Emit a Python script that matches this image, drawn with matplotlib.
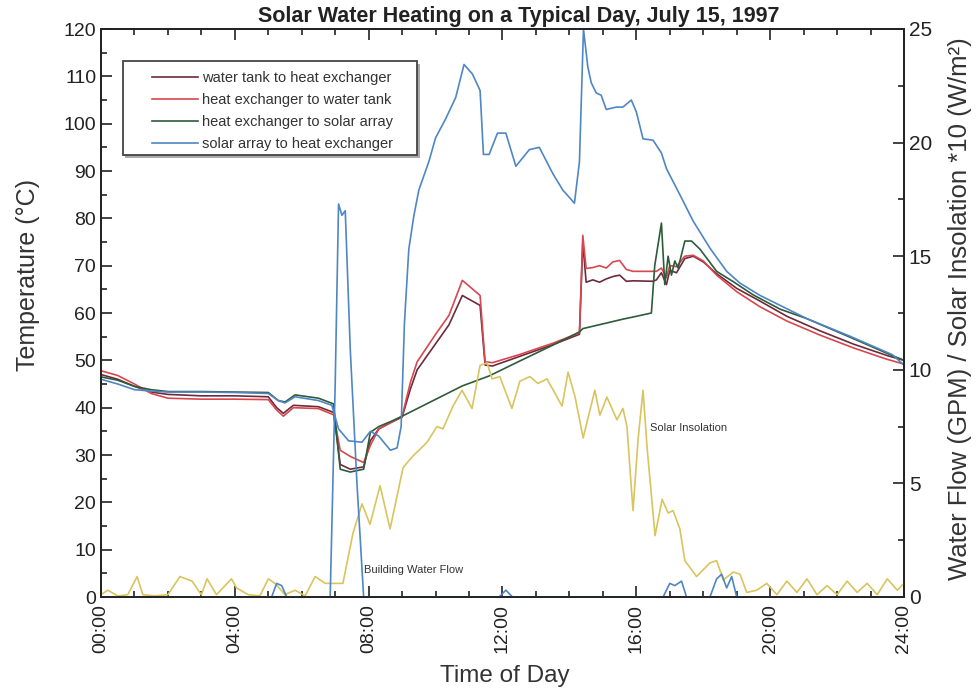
import matplotlib
matplotlib.use("Agg")
import matplotlib.pyplot as plt
from matplotlib.ticker import MultipleLocator
from matplotlib.patches import Rectangle

plt.rcParams['font.family'] = ['Liberation Sans', 'DejaVu Sans']

# ---------------- data ----------------
hour_ticks = [0, 4, 8, 12, 16, 20, 24]
hour_labels = ["00:00", "04:00", "08:00", "12:00", "16:00", "20:00", "24:00"]

series_names = ["water tank to heat exchanger", "heat exchanger to water tank",
                "heat exchanger to solar array", "solar array to heat exchanger"]

hours_tank_loop = [0, 0.5, 1.0, 1.5, 2.0, 3.0, 4.0, 5.0, 5.25, 5.45, 5.75, 6.5, 6.95, 7.15, 7.45,
                   7.85, 8.05, 8.3, 8.7, 9.0, 9.25, 9.45, 10.0, 10.4, 10.8, 11.33, 11.48, 11.7, 12.5,
                   13.5, 14.3, 14.4, 14.5, 14.7, 14.9, 15.1, 15.3, 15.5, 15.7, 15.9, 16.5, 16.6, 16.75,
                   16.9, 17.0, 17.2, 17.45, 17.7, 18.0, 18.4, 19.0, 19.7, 20.5, 21.5, 22.5, 23.5, 24]
temp_tank_to_hx = [47.0, 46.0, 44.5, 43.3, 42.8, 42.5, 42.5, 42.3, 40.0, 38.8, 40.5, 40.2, 39.0, 28.0,
                   27.0, 27.5, 33.0, 35.5, 37.0, 38.0, 44.0, 48.0, 53.5, 57.5, 63.7, 61.6, 49.0, 48.8,
                   50.8, 53.3, 55.5, 75.0, 66.5, 67.0, 66.5, 67.2, 67.7, 68.0, 66.7, 66.8, 66.7, 67.0,
                   68.5, 66.0, 69.0, 68.5, 71.5, 72.0, 70.8, 68.3, 65.2, 62.5, 59.3, 56.2, 53.4, 51.0, 50.0]
temp_hx_to_tank = [47.8, 46.8, 45.0, 43.0, 42.0, 41.8, 41.8, 41.7, 39.5, 38.2, 40.0, 39.8, 38.5, 31.0,
                   29.7, 28.4, 32.0, 35.5, 37.0, 38.2, 45.4, 49.7, 55.5, 59.5, 66.9, 63.7, 49.7, 49.5,
                   51.2, 53.6, 55.8, 76.4, 69.4, 69.6, 70.0, 69.5, 70.8, 71.1, 69.2, 68.8, 68.8, 68.8,
                   69.5, 67.5, 70.0, 69.8, 72.0, 72.2, 71.0, 68.0, 64.5, 61.3, 58.3, 55.3, 52.6, 50.2, 49.2]

hours_hx_to_solar = [0, 0.5, 1.0, 1.5, 2.0, 3.0, 4.0, 5.0, 5.3, 5.5, 5.8, 6.5, 6.95, 7.15, 7.45, 7.85,
                     8.05, 8.3, 8.7, 9.0, 10.8, 11.6, 12.5, 13.5, 14.3, 14.4, 15.0, 15.6, 16.0, 16.45,
                     16.55, 16.75, 16.85, 16.95, 17.05, 17.15, 17.25, 17.45, 17.65, 17.9, 18.4, 18.9,
                     19.5, 20.3, 21.1, 22.35, 23.65, 24]
temp_hx_to_solar = [46.5, 45.8, 44.5, 43.8, 43.4, 43.4, 43.3, 43.2, 41.5, 41.2, 42.7, 42.0, 40.8, 27.0,
                    26.4, 27.0, 34.8, 36.0, 37.2, 38.2, 44.6, 46.7, 49.8, 53.2, 56.0, 56.7, 57.7, 58.7,
                    59.3, 60.0, 70.0, 79.0, 66.0, 72.0, 68.0, 71.0, 69.5, 75.2, 75.2, 73.5, 68.8, 66.6,
                    63.8, 60.8, 58.8, 55.0, 51.0, 50.0]

hours_solar_to_hx = [0, 0.5, 1.0, 1.5, 2.0, 3.0, 4.0, 5.0, 5.3, 5.5, 5.8, 6.5, 6.9, 7.1, 7.4, 7.8, 8.05,
                     8.3, 8.65, 8.85, 8.97, 9.07, 9.2, 9.35, 9.5, 9.8, 10.0, 10.3, 10.6, 10.85, 11.1,
                     11.33, 11.43, 11.6, 11.85, 12.1, 12.4, 12.8, 13.1, 13.5, 13.8, 14.15, 14.3, 14.42,
                     14.55, 14.65, 14.8, 14.95, 15.1, 15.4, 15.6, 15.85, 16.0, 16.2, 16.5, 16.75, 16.9,
                     17.3, 17.7, 18.2, 18.7, 19.1, 19.7, 20.3, 21.1, 22.35, 23.65, 24]
temp_solar_to_hx = [46.0, 45.0, 43.8, 43.5, 43.3, 43.3, 43.2, 43.0, 41.5, 41.0, 42.3, 41.5, 40.5, 35.5,
                    33.0, 32.7, 35.0, 34.0, 31.0, 31.5, 36.0, 58.0, 73.5, 80.5, 86.0, 92.0, 97.0, 101.0,
                    105.5, 112.5, 110.5, 107.0, 93.5, 93.5, 98.0, 98.0, 91.0, 94.5, 95.0, 89.5, 86.0,
                    83.2, 92.0, 120.0, 112.0, 108.7, 106.5, 106.0, 103.0, 103.5, 103.5, 105.0, 102.5,
                    96.8, 96.5, 93.8, 90.5, 85.0, 79.4, 73.7, 68.8, 66.3, 63.7, 61.6, 58.8, 55.2, 51.2, 49.0]

hours_flow = [0, 5.1, 5.25, 5.4, 5.55, 6.85, 7.0, 7.1, 7.2, 7.3, 7.45, 7.65, 7.85, 11.9, 12.1, 12.3,
              16.8, 17.0, 17.15, 17.35, 17.5, 18.2, 18.4, 18.55, 18.7, 18.85, 19.0, 24]
building_flow = [0, 0, 0.6, 0.5, 0, 0, 9.4, 17.3, 16.8, 17.0, 10.9, 5.0, 0, 0, 0.3, 0,
                 0, 0.6, 0.5, 0.7, 0, 0, 0.8, 1.0, 0.4, 0.9, 0, 0]

hours_sun = [0, 0.2, 0.5, 0.8, 1.08, 1.25, 1.6, 2.0, 2.36, 2.72,
             3.0, 3.17, 3.45, 3.9, 4.05, 4.4, 4.75, 5.0, 5.2, 5.5,
             5.8, 6.1, 6.4, 6.7, 7.0, 7.23, 7.53, 7.8, 8.04, 8.34,
             8.64, 9.03, 9.32, 9.74, 10.04, 10.22, 10.52, 10.79, 11.09, 11.33,
             11.54, 11.69, 11.92, 12.28, 12.52, 12.82, 13.06, 13.33, 13.48, 13.78,
             13.96, 14.17, 14.41, 14.76, 14.91, 15.12, 15.42, 15.6, 15.72, 15.9,
             16.05, 16.2, 16.32, 16.56, 16.77, 16.95, 17.1, 17.3, 17.45, 17.8,
             18.2, 18.4, 18.6, 18.9, 19.1, 19.3, 19.6, 19.9, 20.2, 20.5,
             20.8, 21.1, 21.4, 21.7, 22.0, 22.3, 22.6, 22.9, 23.2, 23.5,
             23.8, 24]
insolation = [0.1, 0.3, 0.05, 0.1, 0.9, 0.1, 0.05, 0.1, 0.9, 0.7,
              0.1, 0.8, 0.1, 0.8, 0.4, 0.1, 0.05, 0.8, 0.6, 0.1,
              0.3, 0.05, 0.9, 0.6, 0.6, 0.6, 2.8, 4.1, 3.2, 4.9,
              3.0, 5.7, 6.2, 6.8, 7.5, 7.4, 8.4, 9.1, 8.3, 10.2,
              10.3, 9.6, 9.7, 8.3, 9.5, 9.7, 9.4, 9.6, 9.2, 8.4,
              9.9, 8.8, 7.0, 9.1, 8.0, 8.8, 7.8, 8.3, 7.5, 3.8,
              6.9, 9.1, 6.6, 2.7, 4.3, 3.7, 3.8, 3.0, 1.6, 0.9,
              1.5, 1.6, 0.75, 1.1, 1.0, 0.2, 0.3, 0.6, 0.1, 0.7,
              0.2, 0.8, 0.1, 0.5, 0.1, 0.7, 0.2, 0.6, 0.1, 0.8,
              0.3, 0.6]

# ---------------- styling ----------------
c_maroon = "#6e2a3c"
c_red = "#d8474f"
c_green = "#2d5c3a"
c_blue = "#4f86c4"
c_yellow = "#d9c45e"
lw = 1.2
txt = '#333333'

fig = plt.figure(figsize=(9.77, 6.94), dpi=100)
ax = fig.add_axes([101/977, 97/694, 803/977, 568/694])
ax2 = ax.twinx()

l1, = ax.plot(hours_tank_loop, temp_tank_to_hx, color=c_maroon, lw=lw)
l2, = ax.plot(hours_tank_loop, temp_hx_to_tank, color=c_red, lw=lw)
l3, = ax.plot(hours_hx_to_solar, temp_hx_to_solar, color=c_green, lw=lw)
l4, = ax.plot(hours_solar_to_hx, temp_solar_to_hx, color=c_blue, lw=lw)

ax2.plot(hours_sun, insolation, color=c_yellow, lw=lw)
ax2.plot(hours_flow, building_flow, color=c_blue, lw=lw)

ax.set_xlim(0, 24)
ax.set_ylim(0, 120)
ax2.set_ylim(0, 25)

ax.set_xticks(hour_ticks)
ax.set_xticklabels(hour_labels, rotation=90)
ax.xaxis.set_minor_locator(MultipleLocator(1))
ax.set_yticks(range(0, 121, 10))
ax.yaxis.set_minor_locator(MultipleLocator(5))
ax2.set_yticks(range(0, 26, 5))
ax2.yaxis.set_minor_locator(MultipleLocator(2.5))

ax.tick_params(axis='both', which='both', direction='in', top=True, right=False,
               labelsize=14, colors='#222222', width=1.2)
ax.tick_params(which='major', length=8)
ax.tick_params(which='minor', length=4.5)
ax.tick_params(axis='x', pad=5)
ax2.tick_params(axis='y', which='both', direction='in', labelsize=15, colors='#222222', width=1.2)
ax2.tick_params(which='major', length=8)
ax2.tick_params(which='minor', length=4.5)

for a in (ax, ax2):
    for s in a.spines.values():
        s.set_linewidth(1.3)
        s.set_color('#222222')

ax.set_ylabel("Temperature (°C)", fontsize=18, color=txt)
ax.yaxis.set_label_coords(-0.076, 0.567)
ax2.set_ylabel("Water Flow (GPM) / Solar Insolation *10 (W/m²)", fontsize=18.5, color=txt)
ax2.yaxis.set_label_coords(1.055, 0.508)
ax.set_xlabel("Time of Day", fontsize=17.5, color=txt)
ax.xaxis.set_label_coords(0.503, -0.12)

ax.set_title("Solar Water Heating on a Typical Day, July 15, 1997", fontsize=15.5,
             fontweight='bold', x=0.52, pad=5, color='#222222')

ax2.text(7.85, 1.2, "Building Water Flow", fontsize=8, va='center', ha='left', color=txt)
ax2.text(16.42, 7.46, "Solar Insolation", fontsize=8, va='center', ha='left', color=txt)

# legend box
x0, y0, w, h = 0.027, 0.778, 0.367, 0.166
ax2.add_patch(Rectangle((x0 + 0.003, y0 - 0.005), w, h, transform=ax2.transAxes,
                        facecolor='#aaaaaa', edgecolor='none', zorder=8))
ax2.add_patch(Rectangle((x0, y0), w, h, transform=ax2.transAxes,
                        facecolor='white', edgecolor='#444444', lw=1.3, zorder=9))
leg = ax2.legend([l1, l2, l3, l4], series_names, loc='upper left',
                 bbox_to_anchor=(0.063, 0.926), bbox_transform=ax2.transAxes,
                 frameon=False, fontsize=10.5, handlelength=3.2, handletextpad=0.25,
                 labelspacing=0.55, borderpad=0, borderaxespad=0)
leg.set_zorder(10)
for t in leg.get_texts():
    t.set_color(txt)

fig.savefig("out.png", dpi=100)
